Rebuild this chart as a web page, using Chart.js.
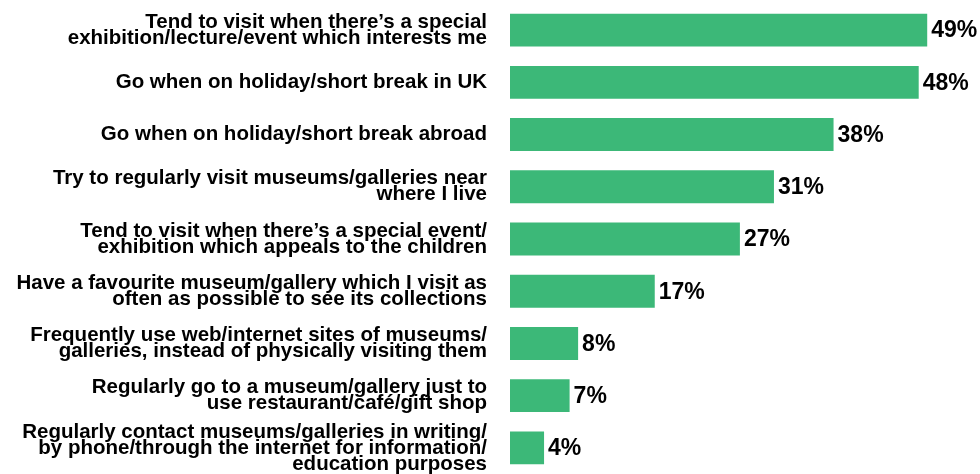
<!DOCTYPE html>
<html>
<head>
<meta charset="utf-8">
<script src="https://cdn.jsdelivr.net/npm/chart.js@4"></script>
<style>
  html, body { margin: 0; padding: 0; background: #ffffff; }
  #wrap { width: 980px; height: 474px; position: relative; }
</style>
</head>
<body>
<div id="wrap"><canvas id="museos"></canvas></div>
<script>
// Como visitan museos/galerias (% de encuestados)
// Barras horizontales, etiqueta de % al final de cada barra

var labels = [
  ["Tend to visit when there\u2019s a special", "exhibition/lecture/event which interests me"],
  ["Go when on holiday/short break in UK"],
  ["Go when on holiday/short break abroad"],
  ["Try to regularly visit museums/galleries near", "where I live"],
  ["Tend to visit when there\u2019s a special event/", "exhibition which appeals to the children"],
  ["Have a favourite museum/gallery which I visit as", "often as possible to see its collections"],
  ["Frequently use web/internet sites of museums/", "galleries, instead of physically visiting them"],
  ["Regularly go to a museum/gallery just to", "use restaurant/caf\u00e9/gift shop"],
  ["Regularly contact museums/galleries in writing/", "by phone/through the internet for information/", "education purposes"]
];
var values = [49, 48, 38, 31, 27, 17, 8, 7, 4];
var barColor = "#3cb878";

// dibuja el valor "NN%" a la derecha de cada barra
var valueLabels = {
  id: "valueLabels",
  afterDatasetsDraw: function(chart) {
    var ctx = chart.ctx;
    var meta = chart.getDatasetMeta(0);
    ctx.save();
    ctx.font = "bold 23px 'Liberation Sans', Arial, sans-serif";
    ctx.fillStyle = "#000000";
    ctx.textAlign = "left";
    ctx.textBaseline = "middle";
    meta.data.forEach(function(bar, i) {
      ctx.fillText(values[i] + "%", bar.x + 4, bar.y + 1);
    });
    ctx.restore();
  }
};

var chart = new Chart(document.getElementById("museos"), {
  type: "bar",
  data: {
    labels: labels,
    datasets: [{
      data: values,
      backgroundColor: barColor,
      borderWidth: 0,
      categoryPercentage: 1,
      barPercentage: 0.63
    }]
  },
  options: {
    indexAxis: "y",
    responsive: true,
    maintainAspectRatio: false,
    animation: false,
    layout: { padding: { top: 4, bottom: 0, left: 0, right: 0 } },
    plugins: {
      legend: { display: false },
      tooltip: { enabled: false }
    },
    scales: {
      x: {
        display: false,
        min: 0,
        max: 55.2
      },
      y: {
        grid: { display: false, drawTicks: false },
        border: { display: false },
        afterFit: function(scale) {
          scale.width = 510;
          // las etiquetas de arriba y abajo pueden salirse del area
          scale.paddingTop = 0;
          scale.paddingBottom = 0;
        },
        ticks: {
          autoSkip: false,
          padding: 23,
          color: "#000000",
          font: { family: "'Liberation Sans', Arial, sans-serif", size: 20.5, weight: "bold", lineHeight: "16px" }
        }
      }
    }
  },
  plugins: [valueLabels]
});
</script>
</body>
</html>
